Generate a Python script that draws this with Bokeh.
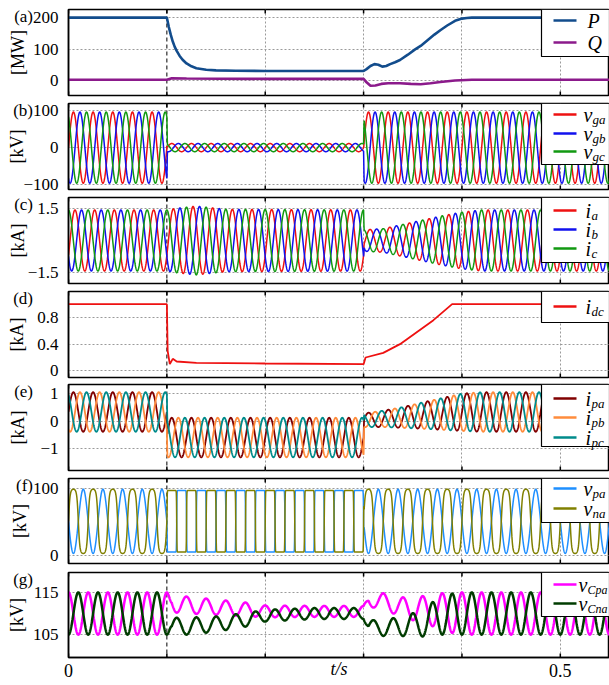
import numpy as np
from bokeh.plotting import figure
from bokeh.layouts import column
from bokeh.models import Range1d, FixedTicker, Span, Label, BoxAnnotation
from bokeh.embed import file_html
from bokeh.resources import INLINE

# ---------------- data ----------------
T_END = 0.55          # s, right end of the time axis
F0 = 50.0             # Hz, fundamental frequency of all waveforms
DT = 0.0002           # s, sample step of the waveforms

# (a) active / reactive power [MW]
p_time = [0, 0.1, 0.102, 0.104, 0.106, 0.108, 0.11, 0.113, 0.116, 0.12, 0.125, 0.13, 0.14, 0.15,
          0.17, 0.2, 0.25, 0.3, 0.303, 0.307, 0.311, 0.315, 0.319, 0.323, 0.327, 0.332, 0.337,
          0.345, 0.352, 0.358, 0.365, 0.372, 0.378, 0.385, 0.393, 0.4, 0.405, 0.41, 0.45, 0.5, 0.55]
p_mw = [200, 200, 170, 145, 124, 107, 94, 78, 66, 54, 45, 39, 34, 32,
        31, 30, 30, 30, 36, 46, 52, 50, 44, 46, 52, 58, 65,
        82, 98, 110, 128, 146, 160, 175, 190, 197, 199, 200, 200, 200, 200]
q_time = [0, 0.1, 0.105, 0.12, 0.2, 0.3, 0.303, 0.307, 0.312, 0.318, 0.325, 0.337, 0.348,
          0.358, 0.368, 0.378, 0.393, 0.41, 0.55]
q_mvar = [2, 2, 7, 6, 5, 5, -6, -17, -16, -11, -9, -9, -11, -12, -9, -5, 0, 2, 2]

# (b) grid voltages: amplitude envelope [kV]
vg_time = [0, 0.1, 0.1005, 0.3, 0.3005, 0.55]
vg_amp = [96, 96, 11, 11, 96, 96]

# (c) grid currents: amplitude envelope [kA]
ig_time = [0, 0.1, 0.11, 0.13, 0.16, 0.3, 0.3005, 0.32, 0.34, 0.36, 0.38, 0.40, 0.42, 0.55]
ig_amp = [1.42, 1.42, 1.5, 1.6, 1.45, 1.42, 0.5, 0.55, 0.75, 0.95, 1.15, 1.32, 1.42, 1.42]

# (d) dc current [kA]
idc_time = [0, 0.1, 0.1008, 0.103, 0.106, 0.11, 0.13, 0.2, 0.3, 0.302, 0.32, 0.337, 0.371, 0.39, 0.45, 0.55]
idc_ka = [1.0, 1.0, 0.3, 0.1, 0.18, 0.14, 0.12, 0.11, 0.1, 0.2, 0.27, 0.4, 0.76, 1.0, 1.0, 1.0]

# (e) arm currents: dc part and ac amplitude [kA]
iarm_time = [0, 0.1, 0.1005, 0.3, 0.3005, 0.32, 0.34, 0.36, 0.38, 0.40, 0.42, 0.55]
iarm_dc = [0.33, 0.33, -0.6, -0.6, 0.03, 0.08, 0.13, 0.2, 0.26, 0.32, 0.33, 0.33]
iarm_amp = [0.72, 0.72, 0.72, 0.72, 0.25, 0.3, 0.38, 0.48, 0.58, 0.68, 0.72, 0.72]

# (f) arm voltages [kV]: mean, amplitude, edge steepness
varm_time = [0, 0.1, 0.1005, 0.3, 0.3005, 0.55]
varm_mean = [51, 51, 51, 51, 51, 51]
varm_amp = [48, 48, 46, 46, 48, 48]
vpa_edge = [0.1, 0.1, 12, 12, 0.1, 0.1]
vna_edge = [2.0, 2.0, 12, 12, 2.0, 2.0]

# (g) capacitor voltages [kV]: mean and amplitude
vc_time = [0, 0.1, 0.105, 0.12, 0.15, 0.18, 0.2, 0.25, 0.3, 0.305, 0.32, 0.337, 0.357, 0.378, 0.395, 0.55]
vcp_mean = [110, 110, 112.5, 112, 111.5, 111, 110.5, 110.5, 110.5, 113, 113, 111.5, 111, 110.6, 110, 110]
vcp_amp = [5, 5, 2.2, 2.0, 1.8, 1.6, 1.4, 1.3, 1.3, 1.5, 1.8, 2.3, 3.0, 4.2, 5, 5]
vcn_mean = [110, 110, 107, 107, 107.5, 108.5, 109.5, 110, 110, 107, 106.5, 107, 107.5, 109.5, 110, 110]
vcn_amp = [5, 5, 2.0, 2.0, 1.8, 1.6, 1.4, 1.3, 1.3, 1.5, 1.8, 2.3, 3.0, 4.5, 5, 5]

# ---------------- waveforms ----------------
t = np.arange(0.0, T_END + DT / 2, DT)
w = 2 * np.pi * F0
PH = [0.0, -2 * np.pi / 3, 2 * np.pi / 3]


def env(tt, vv):
    return np.interp(t, tt, vv)


def shape(s, k):
    return np.tanh(k * s) / np.tanh(k)


# ---------------- styling helpers ----------------
FONT = "Liberation Serif"
TICK_SIZE = "17px"
W = 609
LEFT = 68
FRAME_W = W - LEFT
XT = [0, 0.1, 0.2, 0.3, 0.4, 0.5]
NB = "\u00a0"
xr = Range1d(0, T_END)


def xd(px):
    return (px - LEFT) / FRAME_W * T_END


def panel(ylo, yhi, yticks, ylabels, unit, letter, top, fh, bottom, last=False, pad=6):
    p = figure(width=W, height=top + fh + bottom, x_range=xr, y_range=Range1d(ylo, yhi),
               output_backend="svg", toolbar_location=None,
               min_border_left=LEFT, min_border_right=0,
               min_border_top=top, min_border_bottom=bottom)
    p.outline_line_color = "black"
    p.outline_line_width = 1.5
    p.outline_line_alpha = 1.0

    def yd(py):
        return yhi - py / fh * (yhi - ylo)

    # inward x tick marks at top and bottom of the frame
    tick_len = 4 / fh * (yhi - ylo)
    p.segment(x0=XT, x1=XT, y0=[ylo] * len(XT), y1=[ylo + tick_len] * len(XT),
              line_color="black", line_width=1.5)
    p.segment(x0=XT, x1=XT, y0=[yhi] * len(XT), y1=[yhi - tick_len] * len(XT),
              line_color="black", line_width=1.5)

    ax = p.xaxis[0]
    if last:
        ax.ticker = FixedTicker(ticks=XT)
        ax.major_tick_in = 0
        ax.major_tick_out = 0
        ax.minor_tick_line_color = None
        ax.axis_line_width = 1.5
        ax.major_label_overrides = {0.1: "", 0.2: "", 0.3: "", 0.4: ""}
        ax.major_label_text_font = FONT
        ax.major_label_text_font_size = "18px"
        ax.major_label_text_color = "black"
        ax.major_label_standoff = 6
        ax.axis_label = "t/s"
        ax.axis_label_text_font = FONT
        ax.axis_label_text_font_style = "italic"
        ax.axis_label_text_font_size = "18px"
        ax.axis_label_text_color = "black"
        ax.axis_label_standoff = -21
    else:
        ax.visible = False

    # panel letter sits on its own (mark-less) tick 7 px below the frame top
    labels = dict(zip(yticks, ylabels))
    ticks = list(yticks)
    lv = round(yd(7), 4)
    ticks.append(lv)
    labels[lv] = letter + NB * pad

    ay = p.yaxis[0]
    ay.ticker = FixedTicker(ticks=ticks)
    ay.major_label_overrides = labels
    ay.major_label_text_font = FONT
    ay.major_label_text_font_size = TICK_SIZE
    ay.major_label_text_color = "black"
    ay.major_tick_line_color = None
    ay.minor_tick_line_color = None
    ay.major_label_standoff = 4
    ay.axis_line_width = 1.5
    ay.axis_label = unit
    ay.axis_label_text_font = FONT
    ay.axis_label_text_font_style = "normal"
    ay.axis_label_text_font_size = "18px"
    ay.axis_label_text_color = "black"
    ay.axis_label_standoff = -17

    p.xgrid.ticker = FixedTicker(ticks=[0.2, 0.3, 0.4, 0.5])
    p.xgrid.grid_line_color = "#9a9a9a"
    p.xgrid.grid_line_dash = "2 2"
    p.ygrid.ticker = FixedTicker(ticks=list(yticks))
    p.ygrid.grid_line_color = "#9a9a9a"
    p.ygrid.grid_line_dash = "2 2"
    p.add_layout(Span(location=0.1, dimension="height", line_color="black",
                      line_dash="4 3", line_width=1, level="underlay"))
    return p


def legend(p, ylo, yhi, fh, entries, rows, bottom_px, text_px=585, sub_size="13px"):
    def yd(py):
        return yhi - py / fh * (yhi - ylo)
    p.add_layout(BoxAnnotation(left=xd(541), bottom=yd(bottom_px), fill_color="white",
                               fill_alpha=1.0, line_color="black", line_width=1.2,
                               line_alpha=1.0))
    for (color, main, sub), ry in zip(entries, rows):
        r = p.line([xd(553), xd(576)], [yd(ry), yd(ry)], line_color=color, line_width=2.5)
        r.level = "overlay"
        p.add_layout(Label(x=xd(text_px), y=yd(ry), text=main, text_font=FONT,
                           text_font_style="italic", text_font_size="20px",
                           text_baseline="middle", text_color="black", level="overlay"))
        if sub:
            off = {"v": 9, "i": 6}.get(main, 11)
            p.add_layout(Label(x=xd(text_px), y=yd(ry), x_offset=off, y_offset=-5, text=sub,
                               text_font=FONT, text_font_style="italic", text_font_size=sub_size,
                               text_baseline="middle", text_color="black", level="overlay"))


figs = []

# (a)
ya = (-48, 226)
pa = panel(*ya, [0, 100, 200], ["0", "100", "200"], "[MW]", "(a)", 9, 86, 4)
pa.line(p_time, p_mw, line_color="#124c8c", line_width=2.6)
pa.line(q_time, q_mvar, line_color="#8b1a8b", line_width=2.6)
legend(pa, *ya, 86, [("#124c8c", "P", ""), ("#8b1a8b", "Q", "")], [11, 33], 47, 587)
figs.append(pa)

# (b)
yb = (-113, 119)
pb = panel(*yb, [-100, 0, 100], ["\u2212100", "0", "100"], "[kV]", "(b)", 4, 86, 4)
A = env(vg_time, vg_amp)
cols_b = ["#ee1111", "#1111ee", "#119911"]
for c, ph in zip(cols_b, PH):
    pb.line(t, A * np.sin(w * t + ph), line_color=c, line_width=1.5)
legend(pb, *yb, 86, [(cols_b[0], "v", "ga"), (cols_b[1], "v", "gb"), (cols_b[2], "v", "gc")],
       [11, 30, 48], 61, 583)
figs.append(pb)

# (c)
yc = (-2.0, 2.0)
pc = panel(*yc, [-1.5, 1.5], ["\u22121.5", "1.5"], "[kA]", "(c)", 4, 86, 4)
A = env(ig_time, ig_amp)
for c, ph in zip(cols_b, PH):
    pc.line(t, A * np.sin(w * t + ph - 0.5), line_color=c, line_width=1.5)
legend(pc, *yc, 86, [(cols_b[0], "i", "a"), (cols_b[1], "i", "b"), (cols_b[2], "i", "c")],
       [13, 32, 51], 65, 585)
figs.append(pc)

# (d)
yd_ = (-0.1, 1.19)
pdd = panel(*yd_, [0, 0.4, 0.8], ["0", "0.4", "0.8"], "[kA]", "(d)", 4, 86, 4)
pdd.line(idc_time, idc_ka, line_color="#ee1111", line_width=1.8)
legend(pdd, *yd_, 86, [("#ee1111", "i", "dc")], [15], 31, 585)
figs.append(pdd)

# (e)
ye = (-1.8, 1.33)
pe = panel(*ye, [-1, 0, 1], ["\u22121", "0", "1"], "[kA]", "(e)", 3, 86, 4)
D = env(iarm_time, iarm_dc)
A = env(iarm_time, iarm_amp)
cols_e = ["#800000", "#ff8c3c", "#008b8b"]
for c, ph in zip(cols_e, PH):
    pe.line(t, D + A * np.sin(w * t + ph), line_color=c, line_width=1.8)
legend(pe, *ye, 86, [(cols_e[0], "i", "pa"), (cols_e[1], "i", "pb"), (cols_e[2], "i", "pc")],
       [14, 33, 53], 62, 585)
figs.append(pe)

# (f)
yf = (-12, 115)
pf = panel(*yf, [0, 100], ["0", "100"], "[kV]", "(f)", 4, 85, 5)
M = env(varm_time, varm_mean)
A = env(varm_time, varm_amp)
s = np.sin(w * t)
vpa = M - A * shape(s, env(varm_time, vpa_edge))
vna = M + A * shape(s, env(varm_time, vna_edge))
pf.line(t, vpa, line_color="#1e8fff", line_width=1.5)
pf.line(t, vna, line_color="#808000", line_width=1.5)
legend(pf, *yf, 85, [("#1e8fff", "v", "pa"), ("#808000", "v", "na")], [10, 30], 44, 583)
figs.append(pf)

# (g)
yg = (99.6, 119.7)
pg = panel(*yg, [105, 115], ["105", "115"], "[kV]", "(g)", 4, 85, 28, last=True)
cw = np.cos(w * t)
pg.line(t, env(vc_time, vcp_mean) + env(vc_time, vcp_amp) * cw, line_color="#ff00ff", line_width=2.5)
pg.line(t, env(vc_time, vcn_mean) - env(vc_time, vcn_amp) * cw, line_color="#003c00", line_width=2.5)
legend(pg, *yg, 85, [("#ff00ff", "v", "Cpa"), ("#003c00", "v", "Cna")], [12, 31], 44, 578, "12px")
figs.append(pg)

layout = column(*figs)
open("out.html", "w").write(file_html(layout, INLINE))
